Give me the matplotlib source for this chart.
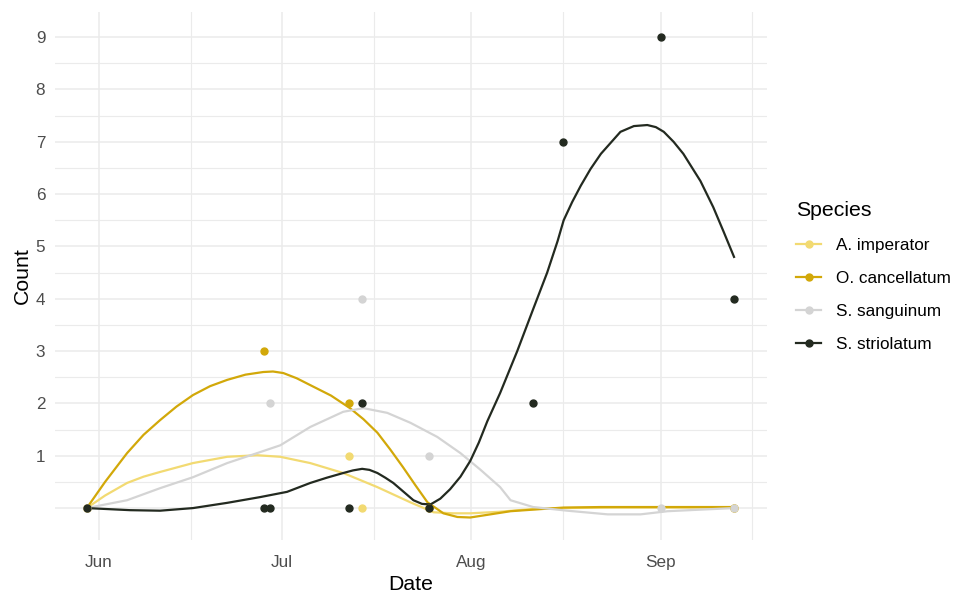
import datetime as dt
import matplotlib
matplotlib.use("Agg")
import matplotlib.pyplot as plt
import matplotlib.dates as mdates
from matplotlib.lines import Line2D

plt.rcParams['font.family'] = ['Liberation Sans', 'DejaVu Sans']

species = ["A. imperator", "O. cancellatum", "S. sanguinum", "S. striolatum"]
colors = ["#F2DA72", "#D2A809", "#D4D4D4", "#232A20"]

# observed counts per survey date
obs_dates = {
    "A. imperator": ["2021-05-30", "2021-07-12", "2021-07-14", "2021-09-13"],
    "O. cancellatum": ["2021-05-30", "2021-06-28", "2021-07-12", "2021-07-25", "2021-09-13"],
    "S. sanguinum": ["2021-05-30", "2021-06-29", "2021-07-14", "2021-07-25", "2021-09-01", "2021-09-13"],
    "S. striolatum": ["2021-05-30", "2021-06-28", "2021-06-29", "2021-07-12", "2021-07-14",
                      "2021-07-25", "2021-08-11", "2021-08-16", "2021-09-01", "2021-09-13"],
}
obs_counts = {
    "A. imperator": [0, 1, 0, 0],
    "O. cancellatum": [0, 3, 2, 0, 0],
    "S. sanguinum": [0, 2, 4, 1, 0, 0],
    "S. striolatum": [0, 0, 0, 0, 2, 0, 2, 7, 9, 4],
}

# loess trend, sampled along the curve (days after 1 June)
trend_days = {
    "A. imperator": [-2, 1, 4.6, 7.3, 10, 15.4, 21, 25.9, 29.7, 34.6, 40, 45.6, 51, 54.8, 58,
                     60.8, 65.7, 70.7, 76.1, 85, 95, 104],
    "O. cancellatum": [-2, 1, 4.6, 7.3, 10, 12.7, 15.4, 18.2, 21, 24, 26.9, 28.5, 30.2, 32.4, 34.6, 38,
                       41.1, 43.3, 45.6, 47.7, 49.8, 51.8, 53.8, 56.4, 58.7, 60.8, 64.1, 67.4, 72.3,
                       76.1, 82.2, 92, 104],
    "S. sanguinum": [-2, 4.6, 10, 15.4, 21, 26.4, 29.7, 34.6, 40, 43.3, 47.2, 51, 55.4, 59.2, 62.5,
                     65.7, 67.4, 71.1, 76.7, 83.3, 88.7, 93.1, 98.5, 104],
    "S. striolatum": [-2, 5.1, 10, 15.4, 21, 26.4, 30.8, 34.6, 37.3, 40, 41.6, 43.1, 44.3, 45.6, 46.9,
                      48.2, 50, 51.5, 52.9, 54.3, 55.9, 57.5, 59.2, 60.8, 62.2, 63.6, 65.7, 68.5, 71.1,
                      73.4, 75.1, 76.1, 77.5, 78.9, 80.5, 82.2, 85.4, 87.6, 89.8, 91.2, 92.5, 94.1,
                      95.7, 98.5, 100.6, 102.3, 104],
}
trend_counts = {
    "A. imperator": [0, 0.24, 0.48, 0.60, 0.69, 0.86, 0.98, 1.01, 0.98, 0.86, 0.67, 0.40, 0.11,
                     -0.08, -0.10, -0.10, -0.07, -0.02, 0.0, 0.01, 0.01, 0.01],
    "O. cancellatum": [0, 0.50, 1.05, 1.40, 1.68, 1.94, 2.16, 2.33, 2.45, 2.55, 2.60, 2.61, 2.58,
                       2.48, 2.35, 2.15, 1.91, 1.70, 1.44, 1.12, 0.78, 0.44, 0.11, -0.10, -0.17,
                       -0.18, -0.12, -0.06, -0.02, 0.01, 0.02, 0.02, 0.02],
    "S. sanguinum": [0, 0.15, 0.38, 0.59, 0.86, 1.07, 1.20, 1.55, 1.84, 1.91, 1.82, 1.63, 1.36,
                     1.05, 0.73, 0.40, 0.15, 0.02, -0.05, -0.12, -0.12, -0.06, -0.03, 0.0],
    "S. striolatum": [0, -0.04, -0.05, 0.0, 0.10, 0.21, 0.31, 0.48, 0.58, 0.67, 0.72, 0.75, 0.73,
                      0.67, 0.58, 0.48, 0.30, 0.15, 0.08, 0.07, 0.18, 0.36, 0.60, 0.90, 1.25, 1.66,
                      2.20, 3.00, 3.80, 4.50, 5.10, 5.50, 5.85, 6.16, 6.48, 6.77, 7.19, 7.30, 7.32,
                      7.28, 7.19, 7.00, 6.77, 6.25, 5.75, 5.28, 4.80],
}

start = dt.datetime(2021, 6, 1)

fig = plt.figure(figsize=(9.56, 5.94), dpi=100)
ax = fig.add_axes([55 / 956, 54 / 594, 712 / 956, 528 / 594])

for sp, col in zip(species, colors):
    xs = [start + dt.timedelta(days=d) for d in trend_days[sp]]
    ax.plot(xs, trend_counts[sp], color=col, lw=1.6, zorder=3, solid_joinstyle='round')
for sp, col in zip(species, colors):
    xs = [dt.datetime.strptime(s, "%Y-%m-%d") for s in obs_dates[sp]]
    ax.plot(xs, obs_counts[sp], 'o', color=col, ms=5, zorder=4)

ax.set_xlim(start + dt.timedelta(days=-7.2), start + dt.timedelta(days=109.4))
ax.set_ylim(-0.61, 9.48)

ax.xaxis.set_major_locator(mdates.MonthLocator())
ax.xaxis.set_major_formatter(mdates.DateFormatter("%b"))
ax.xaxis.set_minor_locator(mdates.MonthLocator(bymonthday=16))
ax.set_yticks(range(0, 10))
ax.set_yticklabels([""] + [str(i) for i in range(1, 10)])
ax.set_yticks([i + 0.5 for i in range(0, 9)], minor=True)

ax.grid(which='major', color='#EBEBEB', lw=1.1)
ax.grid(which='minor', color='#EBEBEB', lw=0.8)
ax.set_axisbelow(True)
for s in ax.spines.values():
    s.set_visible(False)
ax.tick_params(which='both', length=0)
ax.tick_params(axis='x', labelsize=12.3, labelcolor='#4D4D4D', pad=10.5)
ax.tick_params(axis='y', labelsize=12.3, labelcolor='#4D4D4D', pad=7)

ax.set_xlabel("Date", fontsize=15.3, labelpad=4)
ax.set_ylabel("Count", fontsize=15.3, labelpad=2.5)

handles = [Line2D([], [], color=c, lw=1.6, marker='o', ms=5) for c in colors]
leg = fig.legend(handles, species, loc='center left', bbox_to_anchor=(781 / 956, 0.5345),
                 frameon=False, title="Species", fontsize=12.3, title_fontsize=15.3,
                 handlelength=1.44, labelspacing=1.04, handletextpad=0.86, alignment='left')

fig.savefig("out.png", dpi=100)
